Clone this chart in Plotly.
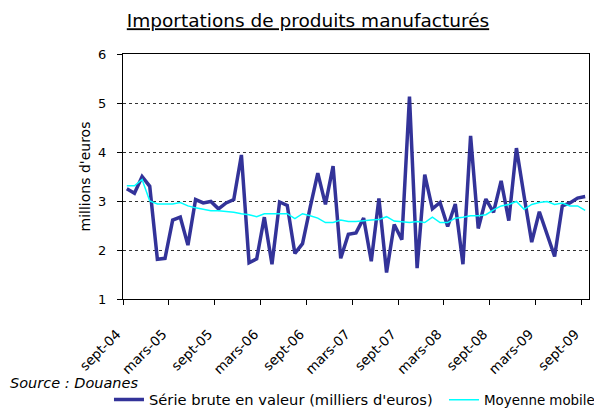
import plotly.graph_objects as go

# ------------------------------------------------- DONNEES -----------------------------------------------------

# mois de sept-04 a sept-09 (61 mois)
mois_fr = ["janv", "févr", "mars", "avr", "mai", "juin", "juil", "août", "sept", "oct", "nov", "déc"]
mois = [f"{mois_fr[(8 + k) % 12]}-{(4 + (8 + k) // 12):02d}" for k in range(61)]

# série brute en valeur
serie_brute = [3.25, 3.16, 3.50, 3.30, 1.81, 1.83, 2.61, 2.67, 2.10, 3.03,
               2.96, 2.99, 2.84, 2.96, 3.03, 3.94, 1.74, 1.82, 2.67, 1.71,
               2.98, 2.91, 1.93, 2.13, 2.87, 3.57, 2.93, 3.71, 1.83, 2.32,
               2.35, 2.65, 1.77, 3.05, 1.54, 2.52, 2.21, 5.13, 1.63, 3.54,
               2.84, 2.97, 2.48, 2.94, 1.71, 4.33, 2.44, 3.04, 2.77, 3.41,
               2.60, 4.08, 3.10, 2.16, 2.78, 2.32, 1.87, 2.90, 2.96, 3.06,
               3.09]

# moyenne mobile
moyenne_mobile = [3.31, 3.31, 3.44, 3.00, 2.94, 2.94, 2.94, 2.97, 2.90, 2.86,
                  2.83, 2.80, 2.80, 2.79, 2.77, 2.74, 2.72, 2.68, 2.74, 2.74,
                  2.74, 2.74, 2.64, 2.74, 2.70, 2.65, 2.56, 2.56, 2.61, 2.58,
                  2.58, 2.60, 2.61, 2.62, 2.68, 2.59, 2.58, 2.56, 2.58, 2.56,
                  2.67, 2.56, 2.56, 2.65, 2.67, 2.70, 2.70, 2.72, 2.82, 2.90,
                  2.93, 2.99, 2.83, 2.93, 2.97, 2.99, 2.93, 2.96, 2.90, 2.90,
                  2.81]

etiquettes = ["sept-04", "mars-05", "sept-05", "mars-06", "sept-06", "mars-07",
              "sept-07", "mars-08", "sept-08", "mars-09", "sept-09"]

# ------------------------------------------------- GRAPHIQUE -----------------------------------------------------

# la page html ajoute une marge de 8px autour de la figure -> figure de 594x400
x = list(range(len(mois)))
police = "DejaVu Sans"

fig = go.Figure()
fig.add_trace(go.Scatter(x=x, y=serie_brute, mode="lines", text=mois,
                         name="Série brute en valeur (milliers d'euros)",
                         line=dict(color="#333399", width=3.5), legend="legend"))
fig.add_trace(go.Scatter(x=x, y=moyenne_mobile, mode="lines", text=mois,
                         name="Moyenne mobile",
                         line=dict(color="#00FFFF", width=1.5), legend="legend2"))

leg = dict(orientation="h", xref="container", yref="container", xanchor="left",
           yanchor="middle", y=0.02, bgcolor="rgba(0,0,0,0)")

fig.update_layout(
    width=594, height=400,
    margin=dict(l=115, r=13, t=46, b=109),
    paper_bgcolor="white", plot_bgcolor="white",
    font=dict(family=police, size=13, color="black"),
    title=dict(text="<u>Importations de produits manufacturés</u>",
               xref="container", yref="container",
               x=0.505, xanchor="center", y=0.968, yanchor="middle",
               font=dict(family=police, size=18.5, color="black")),
    showlegend=True,
    legend=dict(leg, x=0.170, font=dict(size=14.7)),
    legend2=dict(leg, x=0.734, font=dict(size=13.4)),
    annotations=[dict(text="<i>Source : Douanes</i>", xref="paper", yref="paper",
                      x=-0.2468, y=-0.343, xanchor="left", yanchor="middle",
                      showarrow=False, font=dict(size=14.5))],
)

fig.update_xaxes(
    range=[-0.5, len(mois) - 0.5],
    tickmode="array",
    tickvals=[-0.5 + 6 * k for k in range(len(etiquettes))],
    ticktext=[t + "\u00a0\u00a0" for t in etiquettes],
    tickangle=-45, tickfont=dict(size=13.5), ticklabelstandoff=10,
    ticks="outside", ticklen=5, tickcolor="black",
    showline=True, linecolor="black", linewidth=1, mirror=True,
    showgrid=False, zeroline=False, automargin=False,
)
fig.update_yaxes(
    range=[1, 6], dtick=1,
    ticks="outside", ticklen=5, tickcolor="black", tickfont=dict(size=13),
    ticklabelstandoff=8,
    showline=True, linecolor="black", linewidth=1, mirror=True,
    showgrid=True, gridcolor="#333333", gridwidth=1, griddash="3px,3px",
    zeroline=False, automargin=False,
    title=dict(text="millions d'euros", standoff=4, font=dict(size=14)),
)

fig.write_html("out.html")
